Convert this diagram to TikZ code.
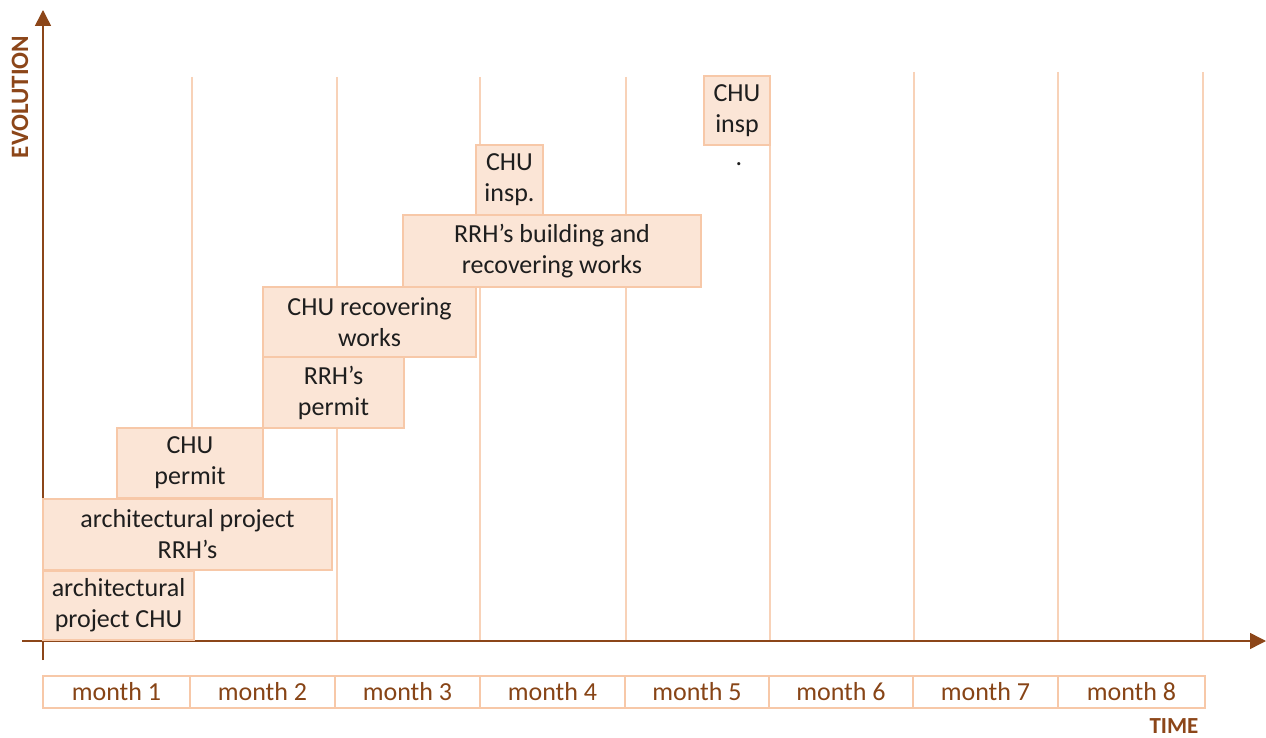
\documentclass[tikz,border=0pt]{standalone}
\usepackage{fontspec}
\setmainfont{Carlito}
\usetikzlibrary{arrows.meta}
\definecolor{axisbrown}{RGB}{140,70,25}
\definecolor{monthbrown}{RGB}{135,68,22}
\definecolor{taskfill}{RGB}{251,229,214}
\definecolor{taskline}{RGB}{247,200,168}
\definecolor{gridline}{RGB}{248,210,184}
\definecolor{tasktext}{RGB}{30,30,30}
\tikzset{
  axis/.style={draw=axisbrown, line width=0.75pt},
  gridl/.style={draw=gridline, line width=0.55pt},
  task/.style={draw=taskline, fill=taskfill, line width=1pt, inner sep=0pt,
    align=center, text=tasktext, font=\fontsize{13}{15.5}\selectfont},
  monthcell/.style={draw=taskline, line width=1pt, inner sep=0pt,
    text=monthbrown, font=\fontsize{13}{15}\selectfont},
  axislabel/.style={text=axisbrown, inner sep=0pt, font=\bfseries\fontsize{11.5}{13}\selectfont},
}
% place a box by its pixel corners (x1,y1) and (x2,y2)
\newcommand{\boxat}[7]{%
  \node[#1, minimum width={(#5-#3)*0.5pt}, minimum height={(#6-#4)*0.5pt}]
    (#2) at ({(#3+#5)/2},{(#4+#6)/2}) {#7};}
\begin{document}
\begin{tikzpicture}[x=0.5pt, y=-0.5pt]
\useasboundingbox (0,0) rectangle (1266,738);

% month grid lines
\foreach \gx/\gt in {192/77,337/77,480/77,626/77,770/77,914/72,1058/72,1203/72}
  {\draw[gridl] (\gx,\gt) -- (\gx,641);}

% axes
\coordinate (yfoot) at (43,660);
\coordinate (ytop) at (43,10);
\coordinate (xstart) at (22,641);
\coordinate (xend) at (1266,641);
\draw[axis, -{Triangle[width=8pt,length=8pt]}] (yfoot) -- (ytop);
\draw[axis, -{Triangle[width=8pt,length=8pt]}] (xstart) -- (xend);
\node[axislabel, rotate=90, font=\bfseries\fontsize{12.5}{14}\selectfont] (evo) at (20,97) {EVOLUTION};
\node[axislabel] (time) at (1174,726) {TIME};

% tasks
\boxat{task}{archchu}{43}{571}{194}{640}{architectural\\project CHU}
\boxat{task}{archrrh}{43}{499}{332}{570}{architectural project\\RRH’s}
\boxat{task}{chupermit}{117}{428}{263}{498}{CHU\\permit}
\boxat{task}{rrhpermit}{263}{357}{404}{428}{RRH’s\\permit}
\boxat{task}{churecov}{263}{287}{476}{357}{CHU recovering\\works}
\boxat{task}{rrhworks}{403}{215}{701}{287}{RRH’s building and\\recovering works}
\boxat{task}{chuinspa}{476}{145}{543}{215}{CHU\\insp.}
\boxat{task}{chuinspb}{704}{76}{770}{145}{CHU\\insp}
\node[text=tasktext, font=\fontsize{13}{15.5}\selectfont, inner sep=0pt] (inspdot) at (739,164) {.};

% month scale
\foreach \i/\a/\b in {1/43/190,2/190/335,3/335/480,4/480/625,5/625/769,6/769/913,7/913/1058,8/1058/1205}
  {\boxat{monthcell}{m\i}{\a}{676}{\b}{708}{month \i}}
\end{tikzpicture}
\end{document}
